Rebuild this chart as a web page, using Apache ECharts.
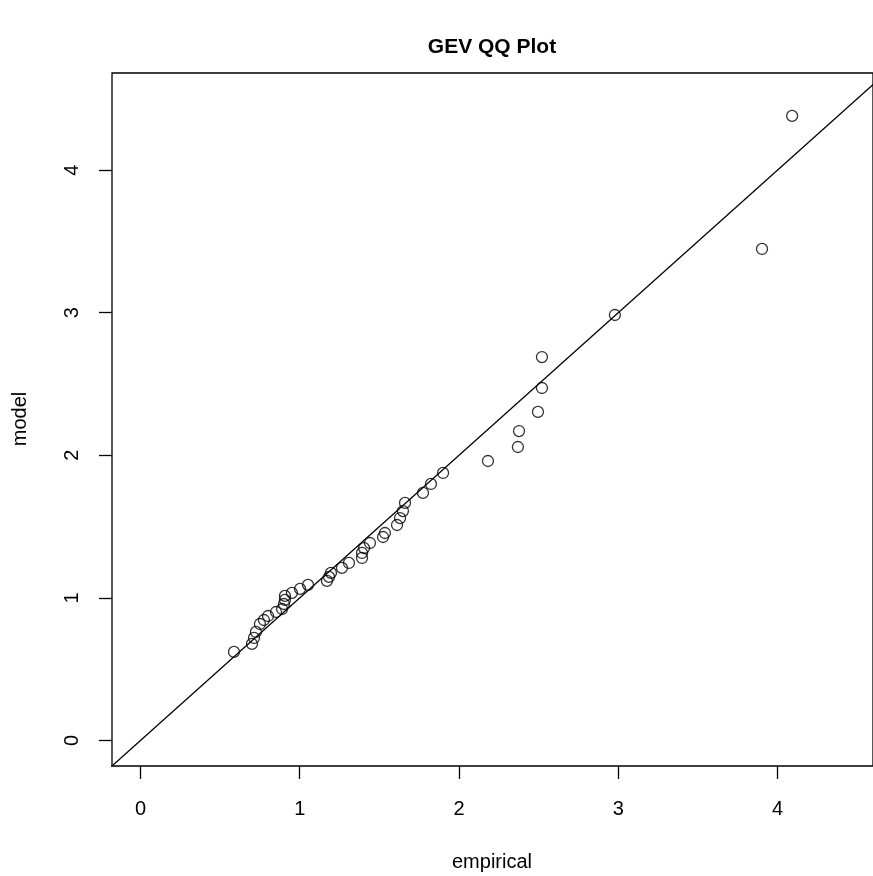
<!DOCTYPE html>
<html>
<head>
<meta charset="utf-8">
<script src="https://cdn.jsdelivr.net/npm/echarts@6/dist/echarts.min.js"></script>
<style>
html,body{margin:0;padding:0;background:#fff;}
#chart{width:873px;height:876px;}
</style>
</head>
<body>
<div id="chart"></div>
<script>
// Data
const empirical = [0.587,0.700,0.713,0.725,0.750,0.775,0.801,0.851,0.889,0.901,0.907,0.907,0.951,1.002,1.052,
  1.171,1.184,1.196,1.265,1.309,1.391,1.391,1.404,1.441,1.523,1.535,
  1.611,1.630,1.648,1.661,1.774,1.824,1.900,
  2.182,2.370,2.377,2.496,2.521,2.521,2.979,3.903,4.092];
const model = [0.621,0.677,0.719,0.761,0.817,0.845,0.873,0.901,0.922,0.957,0.986,1.014,1.035,1.063,1.091,
  1.119,1.147,1.175,1.210,1.245,1.280,1.315,1.349,1.385,1.427,1.455,
  1.511,1.560,1.609,1.666,1.736,1.799,1.876,
  1.960,2.058,2.170,2.304,2.472,2.689,2.984,3.447,4.380];
const xTicks = [0,1,2,3,4];
const yTicks = [0,1,2,3,4];
const xRange = [-0.179, 4.600];
const yRange = [-0.179, 4.681];
const refLine = [[-1,-1],[6,6]];

const points = empirical.map((v,i)=>[v, model[i]]);
const FONT = '"Liberation Sans", Arial, Helvetica, sans-serif';

const chart = echarts.init(document.getElementById('chart'), null, {renderer:'canvas'});
chart.setOption({
  animation:false,
  backgroundColor:'#ffffff',
  grid:{left:112, top:73, right:-2, bottom:110, show:true, borderColor:'#000', borderWidth:1.3, backgroundColor:'transparent'},
  xAxis:{
    type:'value', min:xRange[0], max:xRange[1],
    axisLine:{show:false, onZero:false},
    splitLine:{show:false},
    axisTick:{show:true, customValues:xTicks, length:13, inside:false, lineStyle:{color:'#000', width:1.3}},
    axisLabel:{show:true, customValues:xTicks, margin:33, color:'#000', fontSize:20, fontFamily:FONT, formatter:v=>String(v)}
  },
  yAxis:{
    type:'value', min:yRange[0], max:yRange[1],
    axisLine:{show:false, onZero:false},
    splitLine:{show:false},
    axisTick:{show:true, customValues:yTicks, length:13, inside:false, lineStyle:{color:'#000', width:1.3}},
    axisLabel:{show:true, customValues:yTicks, rotate:90, margin:30, color:'#000', fontSize:20, fontFamily:FONT, formatter:v=>String(v)}
  },
  graphic:[
    {type:'text', x:492, y:47, style:{text:'GEV QQ Plot', font:'bold 21px '+FONT, fill:'#000', align:'center', verticalAlign:'middle'}},
    {type:'text', x:492, y:862, style:{text:'empirical', font:'20px '+FONT, fill:'#000', align:'center', verticalAlign:'middle'}},
    {type:'text', x:20, y:419, rotation:Math.PI/2, style:{text:'model', font:'20px '+FONT, fill:'#000', align:'center', verticalAlign:'middle'}}
  ],
  series:[
    {type:'line', data:refLine, showSymbol:false, symbol:'none', clip:true, lineStyle:{color:'#000', width:1.3}, silent:true, z:1},
    {type:'scatter', data:points, symbol:'circle', symbolSize:11, itemStyle:{color:'rgba(0,0,0,0)', borderColor:'#000', borderWidth:1.3}, z:2}
  ]
});
</script>
</body>
</html>
